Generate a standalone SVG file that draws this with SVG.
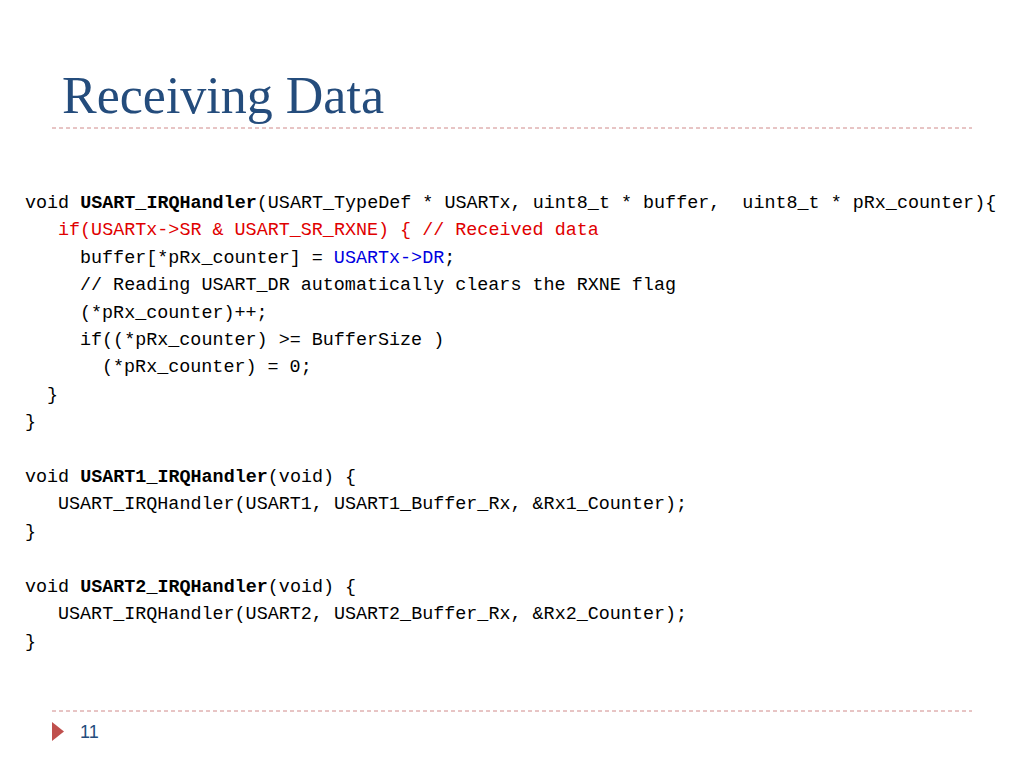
<svg xmlns="http://www.w3.org/2000/svg" width="1024" height="768" viewBox="0 0 1024 768">
<style>
.c{font-family:"Liberation Mono","DejaVu Sans Mono",monospace;font-size:18.4px;fill:#000;white-space:pre}
.b{font-weight:bold}
.r{fill:#e00000}
.u{fill:#0000e0}
.d{stroke:#d08a8a;stroke-width:1;stroke-dasharray:4 3}
</style>
<rect width="1024" height="768" fill="#fff"/>
<text x="62" y="113" font-family="Liberation Serif,serif" font-size="52" fill="#244c7c">Receiving Data</text>
<line class="d" x1="52" y1="128" x2="972" y2="128"/>
<line class="d" x1="52" y1="711" x2="972" y2="711"/>
<polygon points="52,722 64,731.5 52,741" fill="#c0504d"/>
<text x="80" y="738" font-family="Liberation Sans,sans-serif" font-size="18" fill="#244c7c">11</text>
<g class="c">
<text x="25" y="208" xml:space="preserve">void <tspan class="b">USART_IRQHandler</tspan>(USART_TypeDef * USARTx, uint8_t * buffer,  uint8_t * pRx_counter){</text>
<text x="58" y="235" class="c r">if(USARTx-&gt;SR &amp; USART_SR_RXNE) { // Received data</text>
<text x="80" y="263">buffer[*pRx_counter] = <tspan class="u">USARTx-&gt;DR</tspan>;</text>
<text x="80" y="290">// Reading USART_DR automatically clears the RXNE flag</text>
<text x="80" y="318">(*pRx_counter)++;</text>
<text x="80" y="345">if((*pRx_counter) &gt;= BufferSize )</text>
<text x="102" y="372">(*pRx_counter) = 0;</text>
<text x="47" y="400">}</text>
<text x="25" y="427">}</text>
<text x="25" y="482">void <tspan class="b">USART1_IRQHandler</tspan>(void) {</text>
<text x="58" y="509">USART_IRQHandler(USART1, USART1_Buffer_Rx, &amp;Rx1_Counter);</text>
<text x="25" y="537">}</text>
<text x="25" y="592">void <tspan class="b">USART2_IRQHandler</tspan>(void) {</text>
<text x="58" y="619">USART_IRQHandler(USART2, USART2_Buffer_Rx, &amp;Rx2_Counter);</text>
<text x="25" y="647">}</text>
</g>
</svg>
